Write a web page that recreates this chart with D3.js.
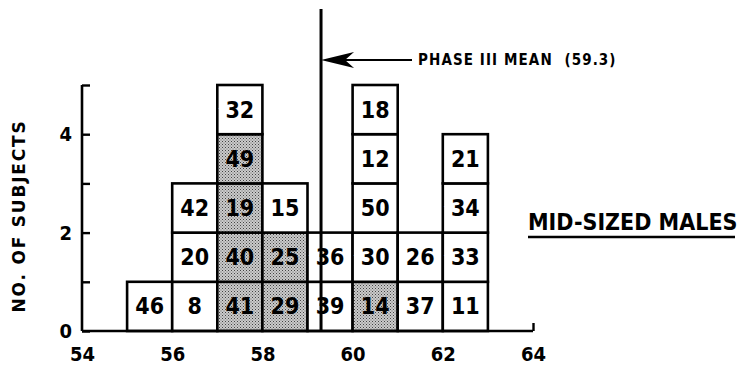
<!DOCTYPE html>
<html>
<head>
<meta charset="utf-8">
<script src="https://cdn.jsdelivr.net/npm/d3@7/dist/d3.min.js"></script>
<style>
  body { margin: 0; background: #fff; }
  svg { display: block; }
  text { font-family: "DejaVu Sans Condensed", "DejaVu Sans", sans-serif; font-stretch: condensed; font-weight: bold; fill: #000; }
</style>
</head>
<body>
<svg id="chart"></svg>
<script>
// height bins (left edge of each 1-unit bin) and subject numbers stacked bottom -> top
var bins = [55, 56, 57, 58, 59, 60, 61, 62]
var subjects = [
    [46],
    [8, 20, 42],
    [41, 40, 19, 49, 32],
    [29, 25, 15],
    [39, 36],
    [14, 30, 50, 12, 18],
    [37, 26],
    [11, 33, 34, 21]
]
// subjects drawn with the stippled fill
var shaded = [41, 40, 19, 49, 29, 25, 14]

var xTicks = [54, 56, 58, 60, 62, 64]
var yTicks = [0, 1, 2, 3, 4, 5]
var yLabels = [0, 2, 4]
var meanValue = 59.3
var meanLabel = "PHASE III MEAN  (59.3)"
var groupLabel = "MID-SIZED MALES"
var yTitle = "NO. OF SUBJECTS"

var screen = {width: 740, height: 365}

var svg = d3.select("#chart")
    .attr("width", screen.width)
    .attr("height", screen.height)

var xScale = d3.scaleLinear()
    .domain([54, 64])
    .range([82, 533])
var yScale = d3.scaleLinear()
    .domain([0, 5])
    .range([331, 85])

// stipple pattern for shaded boxes
var pat = svg.append("defs").append("pattern")
    .attr("id", "stipple")
    .attr("width", 3).attr("height", 3)
    .attr("patternUnits", "userSpaceOnUse")
pat.append("rect").attr("width", 3).attr("height", 3).attr("fill", "#cbcbcb")
pat.append("rect").attr("x", 0).attr("y", 0).attr("width", 1).attr("height", 1).attr("fill", "#444")
pat.append("rect").attr("x", 1.5).attr("y", 1.5).attr("width", 1).attr("height", 1).attr("fill", "#666")

// flatten into cells
var cells = []
bins.forEach(function(b, i) {
    subjects[i].forEach(function(s, level) {
        cells.push({bin: b, level: level, id: s, shade: shaded.indexOf(s) >= 0})
    })
})

var boxes = svg.append("g").attr("id", "boxes")
boxes.selectAll("rect")
    .data(cells)
    .enter()
    .append("rect")
    .attr("x", function(d) { return xScale(d.bin) })
    .attr("y", function(d) { return yScale(d.level + 1) })
    .attr("width", function(d) { return xScale(d.bin + 1) - xScale(d.bin) })
    .attr("height", function(d) { return yScale(d.level) - yScale(d.level + 1) })
    .attr("fill", function(d) { return d.shade ? "url(#stipple)" : "#fff" })
    .attr("stroke", "#000")
    .attr("stroke-width", 2.6)

// mean line (drawn before labels so the numbers break it)
svg.append("line")
    .attr("x1", xScale(meanValue)).attr("x2", xScale(meanValue))
    .attr("y1", 9).attr("y2", yScale(0))
    .attr("stroke", "#000")
    .attr("stroke-width", 3)

boxes.selectAll("text")
    .data(cells)
    .enter()
    .append("text")
    .attr("x", function(d) { return xScale(d.bin + 0.5) })
    .attr("y", function(d) { return yScale(d.level + 0.5) })
    .attr("text-anchor", "middle")
    .attr("dominant-baseline", "central")
    .style("font-size", "23px")
    .style("stroke", function(d) { return d.shade ? "none" : "#fff" })
    .style("stroke-width", 9)
    .style("paint-order", "stroke")
    .text(function(d) { return d.id })

// axes
var yAxis = d3.axisLeft(yScale)
    .tickValues(yTicks)
    .tickSize(-8)
    .tickPadding(10)
    .tickFormat(function(d) { return yLabels.indexOf(d) >= 0 ? d : "" })
var gy = svg.append("g")
    .attr("transform", "translate(" + xScale(54) + ",0)")
    .call(yAxis)

var xAxis = d3.axisBottom(xScale)
    .tickValues(xTicks)
    .tickSize(-8)
    .tickPadding(16)
var gx = svg.append("g")
    .attr("transform", "translate(0," + yScale(0) + ")")
    .call(xAxis)

;[gx, gy].forEach(function(g) {
    g.select(".domain").attr("stroke-width", 2.6)
    g.selectAll(".tick line").attr("stroke-width", 2.4)
    g.selectAll(".tick text").style("font-size", "20px").attr("font-family", null)
})
// plain axis lines (no end caps from d3's domain path)
gy.select(".domain").attr("d", "M0," + yScale(5) + "V" + yScale(0))
gx.select(".domain").attr("d", "M" + xScale(54) + ",0H" + xScale(64))
gx.selectAll(".tick").filter(function(d) { return d != 64 }).select("line").remove()

// arrow + mean label
var ay = 60
var mx = xScale(meanValue)
svg.append("line")
    .attr("x1", mx + 20).attr("x2", 412)
    .attr("y1", ay).attr("y2", ay)
    .attr("stroke", "#000").attr("stroke-width", 2)
svg.append("path")
    .attr("d", "M" + mx + "," + ay + "L" + (mx + 33) + "," + (ay - 8) + "L" + (mx + 24) + "," + ay + "L" + (mx + 33) + "," + (ay + 8) + "Z")
    .attr("fill", "#000")
svg.append("text")
    .attr("x", 418).attr("y", 65)
    .style("font-size", "15px")
    .style("letter-spacing", "1.1px")
    .style("white-space", "pre")
    .text(meanLabel)

// group label, underlined
svg.append("text")
    .attr("x", 528).attr("y", 230)
    .style("font-size", "23px")
    .text(groupLabel)
svg.append("line")
    .attr("x1", 528).attr("x2", 735)
    .attr("y1", 237).attr("y2", 237)
    .attr("stroke", "#000").attr("stroke-width", 2.6)

// y title
svg.append("text")
    .attr("transform", "translate(25,216) rotate(-90)")
    .attr("text-anchor", "middle")
    .style("font-size", "17px")
    .style("font-stretch", "normal")
    .style("font-family", "'DejaVu Sans', sans-serif")
    .style("letter-spacing", "1.8px")
    .text(yTitle)
</script>
</body>
</html>
